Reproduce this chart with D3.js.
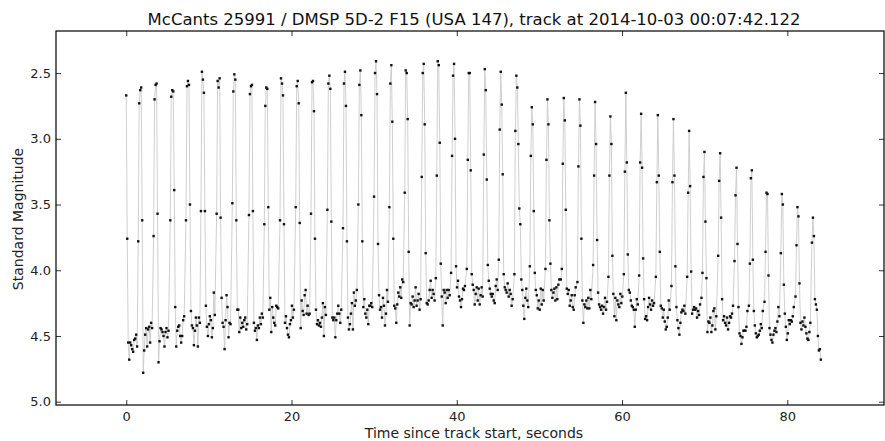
<!DOCTYPE html>
<html>
<head>
<meta charset="utf-8">
<script src="https://cdn.jsdelivr.net/npm/d3@7"></script>
<style>
  body { margin: 0; background: #fff; }
  svg { display: block; font-family: "DejaVu Sans", sans-serif; }
</style>
</head>
<body>
<svg id="chart" width="885" height="441"></svg>
<script>
// --- --- --- Data --- --- ---

const titleText = "McCants 25991 / DMSP 5D-2 F15 (USA 147), track at 2014-10-03 00:07:42.122";
const xLabel = "Time since track start, seconds";
const yLabel = "Standard Magnitude";

const xTicks = [0, 20, 40, 60, 80];
const yTicks = [2.5, 3.0, 3.5, 4.0, 4.5, 5.0];

// camera frame spacing, seconds
const sampleStep = 0.12;

// time of the first bright frame of each flash
const cycleStarts = [
  0.00, 1.45, 3.31, 5.33, 7.23, 9.04, 10.94, 12.84, 14.85, 16.71,
  18.61, 20.51, 22.36, 24.34, 26.23, 28.09, 29.99, 31.84, 33.70, 35.76,
  37.46, 39.31, 41.21, 43.27, 45.08, 46.97, 48.84, 50.73, 52.59, 54.60,
  56.50, 58.35, 60.22, 62.07, 64.09, 65.98, 67.88, 69.61, 71.63, 73.61,
  75.35, 77.24, 79.22, 80.99, 82.98
];

// magnitudes, one list per flash: bright frames then the dim frames up to the next flash
const cycleMags = [
  [2.67, 3.76, 4.55, 4.68, 4.55, 4.57, 4.60, 4.62, 4.53, 4.52, 4.49, 4.58],
  [3.78, 2.73, 2.63, 2.61, 3.62, 4.78, 4.61, 4.49, 4.44, 4.58, 4.45, 4.43, 4.55, 4.40, 4.44],
  [3.74, 2.70, 2.59, 2.58, 3.57, 4.70, 4.54, 4.44, 4.45, 4.47, 4.50, 4.58, 4.47, 4.44, 4.51, 4.46],
  [3.62, 2.68, 2.63, 2.64, 3.39, 4.28, 4.58, 4.46, 4.43, 4.42, 4.50, 4.55, 4.50, 4.38, 4.35],
  [3.62, 2.60, 2.56, 2.59, 3.50, 4.31, 4.42, 4.44, 4.57, 4.46, 4.36, 4.42, 4.58, 4.36, 4.40],
  [3.55, 2.49, 2.55, 2.65, 3.55, 4.27, 4.43, 4.50, 4.41, 4.35, 4.38, 4.51, 4.44, 4.17, 4.34],
  [3.57, 2.56, 2.61, 2.54, 3.60, 4.21, 4.40, 4.43, 4.60, 4.38, 4.19, 4.28, 4.51, 4.40, 4.41],
  [3.49, 2.64, 2.51, 2.55, 3.62, 4.30, 4.30, 4.47, 4.36, 4.44, 4.40, 4.43, 4.38, 4.36, 4.45, 4.41],
  [3.58, 2.66, 2.60, 2.59, 3.55, 4.40, 4.46, 4.44, 4.53, 4.42, 4.44, 4.36, 4.41, 4.33, 4.36],
  [3.65, 2.75, 2.61, 2.62, 3.52, 4.30, 4.21, 4.47, 4.28, 4.36, 4.40, 4.42, 4.27, 4.28, 4.29],
  [3.62, 2.54, 2.58, 2.67, 3.65, 4.40, 4.35, 4.44, 4.49, 4.51, 4.41, 4.38, 4.27, 4.36, 4.30],
  [3.52, 2.60, 2.56, 2.73, 3.64, 4.44, 4.23, 4.31, 4.34, 4.19, 4.15, 4.33, 4.27, 4.34, 4.33],
  [3.57, 2.57, 2.56, 2.79, 3.76, 4.30, 4.41, 4.38, 4.42, 4.40, 4.43, 4.36, 4.25, 4.50, 4.28, 4.34],
  [3.54, 2.58, 2.52, 2.62, 3.63, 4.36, 4.38, 4.36, 4.51, 4.38, 4.33, 4.27, 4.33, 4.40, 4.30],
  [3.68, 2.58, 2.49, 2.75, 3.78, 4.36, 4.45, 4.41, 4.33, 4.25, 4.45, 4.17, 4.27, 4.23, 4.15],
  [3.50, 2.59, 2.48, 2.82, 3.78, 4.28, 4.22, 4.33, 4.36, 4.30, 4.41, 4.27, 4.27, 4.25, 4.28],
  [3.44, 2.50, 2.41, 2.66, 3.80, 4.19, 4.30, 4.28, 4.36, 4.21, 4.27, 4.42, 4.33, 4.15, 4.24],
  [3.52, 2.58, 2.44, 2.87, 3.76, 4.27, 4.29, 4.40, 4.26, 4.17, 4.20, 4.13, 4.21, 4.07, 4.09],
  [3.41, 2.48, 2.50, 2.85, 3.86, 4.42, 4.25, 4.26, 4.20, 4.28, 4.23, 4.13, 4.27, 4.23, 4.18, 4.30, 4.22],
  [3.29, 2.50, 2.43, 2.89, 3.87, 4.25, 4.26, 4.23, 4.15, 4.08, 4.21, 4.15, 4.18, 4.23],
  [4.06, 3.28, 2.41, 2.44, 3.03, 3.95, 4.20, 4.42, 4.15, 4.17, 4.25, 4.15, 4.21, 4.15, 4.19],
  [4.02, 3.13, 2.52, 2.43, 3.00, 3.97, 4.13, 4.08, 4.20, 4.23, 4.28, 4.22, 4.14, 4.15, 4.12],
  [3.99, 3.16, 2.50, 2.50, 3.24, 4.03, 4.11, 4.15, 4.26, 4.18, 4.13, 4.23, 4.14, 4.26, 4.19, 4.13, 4.20],
  [3.12, 2.47, 2.63, 3.31, 3.96, 4.08, 4.14, 4.18, 4.20, 4.18, 4.23, 4.25, 4.12, 4.07, 4.15],
  [3.92, 2.93, 2.49, 2.74, 3.27, 4.03, 4.13, 4.15, 4.17, 4.10, 4.20, 4.15, 4.18, 4.27, 4.22],
  [4.03, 2.94, 2.52, 2.61, 3.04, 3.53, 3.65, 4.07, 4.15, 4.27, 4.37, 4.21, 4.14, 4.23, 4.28],
  [3.97, 3.13, 2.76, 2.89, 3.55, 4.02, 4.15, 4.19, 4.29, 4.23, 4.30, 4.14, 4.26, 4.15, 4.23],
  [3.99, 3.16, 2.70, 2.89, 3.62, 3.95, 4.15, 4.21, 4.17, 4.14, 4.23, 4.13, 4.22, 4.11, 4.07],
  [4.07, 3.99, 3.19, 2.69, 2.86, 3.54, 4.14, 4.18, 4.15, 4.27, 4.23, 4.19, 4.28, 4.30, 4.19, 4.13],
  [4.09, 3.21, 2.70, 2.90, 3.76, 4.23, 4.40, 4.26, 4.28, 4.23, 4.29, 4.21, 4.29, 4.15, 4.22],
  [3.96, 3.28, 2.72, 3.04, 3.77, 4.17, 4.26, 4.28, 4.30, 4.27, 4.33, 4.28, 4.21, 4.30, 4.24],
  [4.05, 3.28, 2.83, 3.04, 3.89, 4.18, 4.35, 4.21, 4.38, 4.23, 4.26, 4.28, 4.18, 4.25, 4.20],
  [4.03, 3.25, 2.65, 3.18, 3.88, 4.15, 4.17, 4.23, 4.27, 4.28, 4.30, 4.43, 4.30, 4.22, 4.26],
  [4.04, 3.18, 2.81, 3.22, 3.91, 4.22, 4.37, 4.35, 4.38, 4.28, 4.21, 4.26, 4.30, 4.23, 4.27, 4.25],
  [4.05, 3.33, 2.82, 3.28, 3.86, 4.27, 4.29, 4.36, 4.30, 4.39, 4.45, 4.43, 4.36, 4.23, 4.30],
  [4.12, 3.33, 2.85, 3.28, 3.97, 4.28, 4.38, 4.44, 4.49, 4.40, 4.32, 4.30, 4.31, 4.27, 4.33],
  [4.05, 3.41, 2.94, 3.36, 4.01, 4.33, 4.30, 4.28, 4.30, 4.29, 4.36, 4.31, 4.34, 4.26],
  [4.21, 4.02, 3.29, 3.10, 3.63, 4.06, 4.47, 4.39, 4.40, 4.36, 4.47, 4.42, 4.31, 4.29, 4.45, 4.35],
  [3.89, 3.32, 3.11, 3.60, 4.22, 4.38, 4.35, 4.40, 4.42, 4.36, 4.45, 4.40, 4.35, 4.36, 4.33, 4.27],
  [3.93, 3.43, 3.22, 3.80, 4.28, 4.48, 4.50, 4.56, 4.51, 4.46, 4.46, 4.46, 4.43, 4.31],
  [4.27, 3.95, 3.30, 3.24, 3.92, 4.31, 4.42, 4.48, 4.51, 4.50, 4.49, 4.46, 4.41, 4.44, 4.31],
  [4.24, 3.86, 3.41, 3.42, 4.04, 4.44, 4.49, 4.53, 4.55, 4.49, 4.46, 4.44, 4.47, 4.39, 4.28, 4.35],
  [3.87, 3.42, 3.50, 4.11, 4.33, 4.43, 4.53, 4.48, 4.38, 4.41, 4.38, 4.39, 4.35, 4.28],
  [4.20, 3.81, 3.52, 3.59, 4.10, 4.40, 4.45, 4.39, 4.42, 4.36, 4.43, 4.48, 4.52, 4.53, 4.47, 4.40],
  [3.79, 3.60, 3.74, 4.22, 4.26, 4.30, 4.50, 4.61, 4.60, 4.68]
];

// --- --- --- Layout --- --- ---

const plotLeft = 56, plotRight = 884, plotTop = 31, plotBottom = 405;

const svg = d3.select("#chart");

const x = d3.scaleLinear().domain([-8.5, 91.7]).range([plotLeft, plotRight]);
const y = d3.scaleLinear().domain([2.18, 5.025]).range([plotTop, plotBottom]);

const points = [];
cycleMags.forEach((mags, k) => {
  mags.forEach((m, j) => points.push({ t: cycleStarts[k] + j * sampleStep, m: m }));
});

svg.append("clipPath").attr("id", "plotClip")
  .append("rect")
  .attr("x", plotLeft).attr("y", plotTop)
  .attr("width", plotRight - plotLeft).attr("height", plotBottom - plotTop);

const plot = svg.append("g").attr("clip-path", "url(#plotClip)");

// thin grey trace through every frame
plot.append("path")
  .datum(points)
  .attr("fill", "none")
  .attr("stroke", "#cacaca")
  .attr("stroke-width", 0.9)
  .attr("d", d3.line().x(d => x(d.t)).y(d => y(d.m)));

plot.selectAll(".pt")
  .data(points)
  .enter()
  .append("rect")
  .attr("class", "pt")
  .attr("x", d => x(d.t) - 1.2)
  .attr("y", d => y(d.m) - 1.2)
  .attr("width", 2.4)
  .attr("height", 2.4)
  .attr("fill", "#111");

// --- --- --- Axes (matplotlib classic: ticks inside, on all four sides) --- --- ---

const tickLen = 5;

svg.append("g")
  .attr("transform", `translate(0,${plotBottom})`)
  .call(d3.axisBottom(x).tickValues(xTicks).tickFormat(d3.format("d"))
    .tickSizeInner(-tickLen).tickSizeOuter(0).tickPadding(7));

svg.append("g")
  .attr("transform", `translate(0,${plotTop})`)
  .call(d3.axisTop(x).tickValues(xTicks).tickFormat("")
    .tickSizeInner(-tickLen).tickSizeOuter(0));

svg.append("g")
  .attr("transform", `translate(${plotLeft},0)`)
  .call(d3.axisLeft(y).tickValues(yTicks).tickFormat(d3.format(".1f"))
    .tickSizeInner(-tickLen).tickSizeOuter(0).tickPadding(5));

svg.append("g")
  .attr("transform", `translate(${plotRight},0)`)
  .call(d3.axisRight(y).tickValues(yTicks).tickFormat("")
    .tickSizeInner(-tickLen).tickSizeOuter(0));

svg.selectAll(".domain").remove();
svg.selectAll(".tick line").attr("stroke", "#000").attr("stroke-width", 0.8);
svg.selectAll(".tick text")
  .attr("fill", "#222")
  .style("font-size", "13px")
  .style("font-family", "'DejaVu Sans', sans-serif");

svg.append("rect")
  .attr("x", plotLeft).attr("y", plotTop)
  .attr("width", plotRight - plotLeft).attr("height", plotBottom - plotTop)
  .attr("fill", "none")
  .attr("stroke", "#000")
  .attr("stroke-width", 1.2);

// --- --- --- Labels --- --- ---

svg.append("text")
  .attr("x", 474)
  .attr("y", 25)
  .attr("text-anchor", "middle")
  .style("font-size", "16.5px")
  .attr("fill", "#111")
  .text(titleText);

svg.append("text")
  .attr("x", 474)
  .attr("y", 438)
  .attr("text-anchor", "middle")
  .style("font-size", "14px")
  .attr("fill", "#222")
  .text(xLabel);

svg.append("text")
  .attr("transform", "translate(23,219) rotate(-90)")
  .attr("text-anchor", "middle")
  .style("font-size", "14px")
  .attr("fill", "#222")
  .text(yLabel);
</script>
</body>
</html>
